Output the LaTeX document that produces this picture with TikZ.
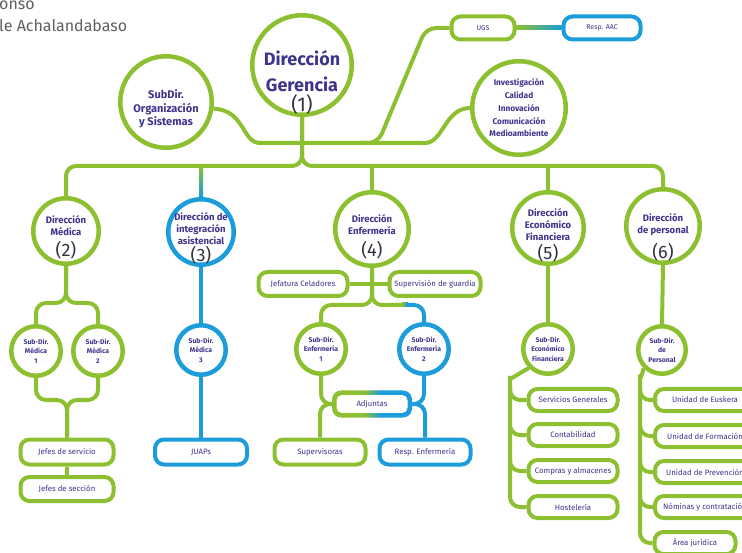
\documentclass[tikz,border=0pt]{standalone}
\usepackage{fontspec}
\setmainfont{Fira Sans}
\definecolor{lg}{RGB}{141,192,48}
\definecolor{bl}{RGB}{28,157,218}
\definecolor{ink}{RGB}{62,52,140}
\definecolor{numc}{RGB}{50,50,60}
\definecolor{grayt}{RGB}{95,95,95}
\pgfdeclarehorizontalshading{gbh}{100bp}{color(0bp)=(lg); color(45bp)=(lg); color(55bp)=(bl); color(100bp)=(bl)}
\newcommand\myfs[2]{\fontsize{#1}{#2}\selectfont}
\pgfdeclarelayer{bg}
\pgfsetlayers{bg,main}
\tikzset{
 gl/.style={draw=lg, line width=4pt, rounded corners=10pt},
 bline/.style={draw=bl, line width=4pt, rounded corners=10pt},
 gcirc/.style={circle, draw=lg, line width=4.5pt, fill=white, inner sep=0pt, text=ink, align=center},
 bcirc/.style={gcirc, draw=bl},
 gbox/.style={rectangle, rounded corners=9pt, draw=lg, line width=4pt, fill=white, inner sep=0pt, text=ink, font=\myfs{7.8}{9}},
 bbox/.style={gbox, draw=bl},
 ctx/.style={text=ink, align=center},
 num/.style={text=numc, font=\myfs{18}{20}},
 subc/.style={gcirc, minimum size=49.5pt, font=\bfseries\myfs{6.8}{9.5}},
 coltxt/.style={ctx, font=\bfseries\myfs{9.5}{12}},
}
\begin{document}
\begin{tikzpicture}[x=1pt,y=-1pt]
\useasboundingbox (0,0) rectangle (742,553);
\clip (0,0) rectangle (742,553);
% author text
\node[anchor=base west, text=grayt, font=\myfs{16}{18}, inner sep=0pt] (au1) at (-1,10) {onso};
\node[anchor=base west, text=grayt, font=\myfs{16}{18}, inner sep=0pt] (au2) at (-1,32) {le Achalandabaso};
% top level
\node[gcirc, minimum size=99.5pt] (ger) at (302,65) {};
\node[ctx, font=\bfseries\myfs{18}{26}] (gert) at (302,71) {Dirección\\Gerencia};
\node[num, font=\myfs{20}{22}] (gern) at (302,105) {(1)};
\node[gcirc, minimum size=91.5pt] (sub) at (166,102) {};
\node[ctx, font=\bfseries\myfs{11}{13.5}] (subt) at (166,109) {SubDir.\\Organización\\y Sistemas};
\node[gcirc, minimum size=93.5pt] (inv) at (519,108) {};
\node[ctx, font=\bfseries\myfs{8.3}{12.7}] (invt) at (519,108) {Investigación\\Calidad\\Innovación\\Comunicación\\Medioambiente};
\node[gbox, minimum width=63pt, minimum height=23pt, font=\myfs{7}{8}] (ugs) at (483,28) {UGS};
\node[bbox, minimum width=77pt, minimum height=23pt, font=\myfs{7}{8}] (aac) at (602,28) {Resp. AAC};
% directions
\node[gcirc, minimum size=65.5pt] (med) at (66,231) {};
\node[coltxt] (medt) at (66,226) {Dirección\\Médica};
\node[num] (medn) at (66,250) {(2)};
\node[bcirc, minimum size=65.5pt] (int) at (201,232) {};
\node[coltxt] (intt) at (201,229) {Dirección de\\integración\\asistencial};
\node[num] (intn) at (201,255) {(3)};
\node[gcirc, minimum size=73.5pt] (enf) at (372,229) {};
\node[coltxt] (enft) at (372,225) {Dirección\\Enfermería};
\node[num] (enfn) at (372,250) {(4)};
\node[gcirc, minimum size=71.5pt] (eco) at (548,228) {};
\node[coltxt] (ecot) at (548,225) {Dirección\\Económico\\Financiera};
\node[num] (econ) at (548,253) {(5)};
\node[gcirc, minimum size=73.5pt] (per) at (663,226) {};
\node[coltxt] (pert) at (663,225) {Dirección\\de personal};
\node[num] (pern) at (663,252) {(6)};
% sub-directions
\node[subc] (sm1) at (36,351) {Sub-Dir.\\Médica\\1};
\node[subc] (sm2) at (98,351) {Sub-Dir.\\Médica\\2};
\node[subc, draw=bl] (sm3) at (201,350) {Sub-Dir.\\Médica\\3};
\node[subc] (se1) at (321,349) {Sub-Dir.\\Enfermería\\1};
\node[subc, draw=bl] (se2) at (424,349) {Sub-Dir.\\Enfermería\\2};
\node[subc] (seco) at (548,349) {Sub-Dir.\\Económico\\Financiera};
\node[subc, minimum size=47.5pt] (sper) at (662,350) {Sub-Dir.\\de\\Personal};
% boxes
\node[gbox, minimum width=93pt, minimum height=25pt] (js) at (67,452) {Jefes de servicio};
\node[gbox, minimum width=93pt, minimum height=24pt] (jsec) at (67,489) {Jefes de sección};
\node[bbox, minimum width=92pt, minimum height=25pt] (juap) at (201,452) {JUAPs};
\node[gbox, minimum width=89pt, minimum height=24pt] (jcel) at (303,284) {Jefatura Celadores};
\node[gbox, minimum width=91pt, minimum height=24pt] (sgu) at (435,284) {Supervisión de guardia};
\node[rectangle, rounded corners=9pt, fill=white, inner sep=0pt, outer sep=0pt, minimum width=80pt, minimum height=27pt, text=ink, font=\myfs{7.8}{9}] (adj) at (372,404) {Adjuntas};
\node[gbox, minimum width=91pt, minimum height=25pt] (sup) at (320,452) {Supervisoras};
\node[bbox, minimum width=91pt, minimum height=25pt] (renf) at (425,452) {Resp. Enfermería};
\node[gbox, minimum width=89pt, minimum height=22pt] (sg) at (573,400) {Servicios Generales};
\node[gbox, minimum width=89pt, minimum height=22pt] (cont) at (573,435) {Contabilidad};
\node[gbox, minimum width=89pt, minimum height=22pt] (comp) at (573,471) {Compras y almacenes};
\node[gbox, minimum width=89pt, minimum height=22pt] (host) at (573,507) {Hostelería};
\node[gbox, minimum width=100pt, minimum height=22pt] (ueu) at (705,400) {Unidad de Euskera};
\node[gbox, minimum width=100pt, minimum height=22pt] (ufo) at (705,436) {Unidad de Formación};
\node[gbox, minimum width=100pt, minimum height=22pt] (upr) at (705,472) {Unidad de Prevención};
\node[gbox, minimum width=100pt, minimum height=22pt] (nom) at (705,507) {Nóminas y contratación};
\node[gbox, minimum width=81pt, minimum height=22pt] (aj) at (695,543) {Área jurídica};
% Adjuntas ring
\shade[shading=gbh, even odd rule, rounded corners=9pt] (adj.south west) rectangle (adj.north east)
  [rounded corners=5pt] ([xshift=4.5pt,yshift=4.5pt]adj.south west) rectangle ([xshift=-4.5pt,yshift=-4.5pt]adj.north east);
% connectors
\begin{pgfonlayer}{bg}
\coordinate (j1) at (302,166);
\coordinate (h1) at (270,143);
\coordinate (h2) at (415,143);
\coordinate (u1) at (360,143);
\coordinate (u2) at (378,143);
\coordinate (u3) at (426,28);
\draw[gl] (ger.south) -- (j1) -| (med.north);
\draw[gl] (ger.south) -- (j1) -| (per.north);
\draw[gl] (enf.north |- j1) -- (enf.north);
\draw[gl] (eco.north |- j1) -- (eco.north);
\shade[top color=lg, bottom color=bl] ([xshift=-2pt]int.north |- j1) rectangle ([xshift=2pt]int.north);
\draw[gl] (sub.-8) .. controls (245,110) and (242,143) .. (h1) -- (h2) .. controls (443,143) and (445,108) .. (inv.west);
\draw[gl] (u1) -- (u2) -- (u3) -- (ugs.west);
\shade[left color=lg, right color=bl] ([yshift=2pt]ugs.east) rectangle ([yshift=-2pt]aac.west);
% Medica
\coordinate (m1) at (66,303);
\coordinate (m2) at (67,400);
\draw[gl] (med.south) -- (m1) -| (sm1.north);
\draw[gl] (med.south) -- (m1) -| (sm2.north);
\draw[gl] (sm1.south) |- (m2) -- (js.north);
\draw[gl] (sm2.south) |- (m2) -- (js.north);
\draw[gl] (js) -- (jsec);
% Integracion
\draw[bline] (int.south) -- (sm3.north);
\draw[bline] (sm3.south) -- (juap.north);
% Enfermeria
\coordinate (e1) at (372,305);
\coordinate (e2) at (402,305);
\coordinate (e3) at (406,305);
\draw[gl] (enf.south) -- (e1) -| (se1.north);
\draw[gl] (enf.south) -- (e1) -- (e2);
\shade[left color=lg, right color=bl] ([yshift=2pt]e2) rectangle ([xshift=2pt,yshift=-2pt]e3);
\draw[bline] (e3) -| (se2.north);
\draw[gl] (jcel.east) -- (sgu.west);
\draw[gl] (se1.south) |- (adj.west);
\draw[gl] (adj.west) -| (sup.north);
\draw[bline] (se2.south) |- (adj.east);
\draw[bline] (adj.east) -| (renf.north);
% Economico
\coordinate (t1) at (510,388);
\draw[gl] (eco.south) -- (seco.north);
\draw[gl] (seco.225) .. controls (516,375) and (510,380) .. (t1) |- (host.west);
\draw[gl] (t1 |- sg.north) |- (sg.west);
\draw[gl] (t1 |- cont.north) |- (cont.west);
\draw[gl] (t1 |- comp.north) |- (comp.west);
% Personal
\coordinate (t2) at (640,388);
\draw[gl] (per.south) -- (sper.north);
\draw[gl] (sper.225) .. controls (642,375) and (640,380) .. (t2) |- (aj.west);
\draw[gl] (t2 |- ueu.north) |- (ueu.west);
\draw[gl] (t2 |- ufo.north) |- (ufo.west);
\draw[gl] (t2 |- upr.north) |- (upr.west);
\draw[gl] (t2 |- nom.north) |- (nom.west);
\end{pgfonlayer}
\end{tikzpicture}
\end{document}
